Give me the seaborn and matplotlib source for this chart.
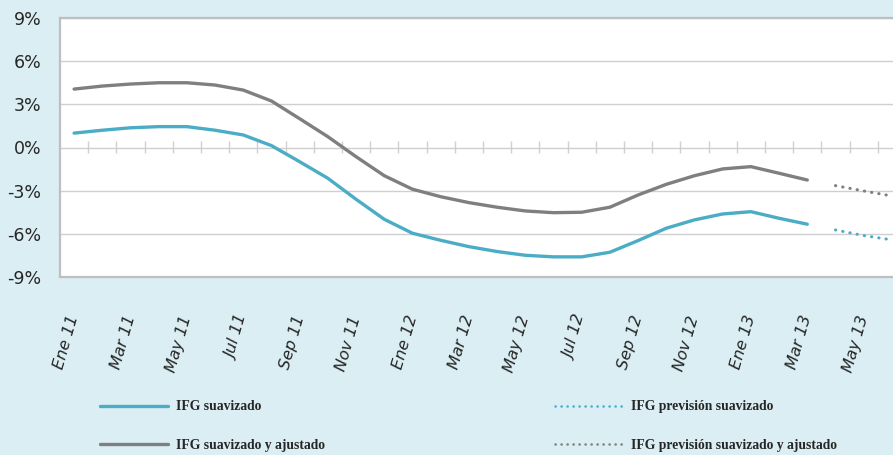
import numpy as np
import pandas as pd
import seaborn as sns
import matplotlib.pyplot as plt
from matplotlib.lines import Line2D

# monthly series, Ene 11 .. Mar 13 observed, Abr 13 onward forecast
meses = ['Ene', 'Feb', 'Mar', 'Abr', 'May', 'Jun', 'Jul', 'Ago', 'Sep', 'Oct', 'Nov', 'Dic']
etiquetas = [f'{meses[i % 12]} {11 + i // 12}' for i in range(30)]

ifg_suavizado = [1.0, 1.2, 1.37, 1.45, 1.45, 1.2, 0.87, 0.13, -0.99, -2.14, -3.6, -4.99, -5.96,
                 -6.45, -6.89, -7.23, -7.49, -7.6, -7.6, -7.28, -6.47, -5.61, -5.03, -4.62,
                 -4.46, -4.92, -5.33]
ifg_ajustado = [4.06, 4.27, 4.41, 4.5, 4.5, 4.34, 3.99, 3.23, 2.0, 0.75, -0.64, -1.96, -2.9,
                -3.42, -3.83, -4.15, -4.41, -4.53, -4.5, -4.15, -3.3, -2.56, -1.96, -1.49,
                -1.33, -1.79, -2.26]
prev_suavizado = [-5.73, -6.12, -6.42]
prev_ajustado = [-2.65, -3.02, -3.37]

yticks = [-9, -6, -3, 0, 3, 6, 9]

azul = '#4bacc6'
gris = '#7f7f7f'
fondo = '#daeef3'

obs = pd.DataFrame({'mes': np.arange(len(ifg_suavizado)),
                    'suav': ifg_suavizado, 'ajust': ifg_ajustado})
prev = pd.DataFrame({'mes': np.arange(len(ifg_suavizado), len(ifg_suavizado) + len(prev_suavizado)),
                     'suav': prev_suavizado, 'ajust': prev_ajustado})

sns.set_style('white')
plt.rcParams['font.family'] = ['DejaVu Sans']

fig = plt.figure(figsize=(8.93, 4.55), dpi=100, facecolor=fondo)
ax = fig.add_axes([60 / 893, 1 - 277 / 455, 1 - 60 / 893, 259 / 455])
ax.set_facecolor('white')

dots = (0, (0.1, 2.3))
sns.lineplot(data=obs, x='mes', y='ajust', ax=ax, color=gris, lw=2.4, solid_capstyle='round')
sns.lineplot(data=obs, x='mes', y='suav', ax=ax, color=azul, lw=2.4, solid_capstyle='round')
sns.lineplot(data=prev, x='mes', y='ajust', ax=ax, color=gris, lw=2.2, linestyle=dots,
             dash_capstyle='round')
sns.lineplot(data=prev, x='mes', y='suav', ax=ax, color=azul, lw=2.2, linestyle=dots,
             dash_capstyle='round')

ax.set_xlim(-0.5, 29.04)
ax.set_ylim(-9, 9)
ax.set_xlabel('')
ax.set_ylabel('')

ax.set_yticks(yticks)
ax.set_yticklabels([f'{v}%' for v in yticks], fontsize=12.5)
ax.grid(axis='y', color='#cfcfcf', lw=1.0)
ax.set_axisbelow(True)
ax.tick_params(axis='y', direction='out', length=4.3, width=1.2, color='#bfbfbf', pad=9)

pos = np.arange(0, 30, 2)
ax.set_xticks(pos)
ax.set_xticklabels([etiquetas[i] for i in pos], rotation=74, fontsize=11.5, style='italic',
                   ha='right', va='center', rotation_mode='anchor')
ax.tick_params(axis='x', length=0, pad=28)

for s in ['left', 'top', 'bottom']:
    ax.spines[s].set_color('#bfbfbf')
    ax.spines[s].set_linewidth(1.6)
ax.spines['right'].set_visible(False)

# cross ticks on the zero line, between categories
sec = ax.secondary_xaxis(0.5)
sec.set_xticks(np.arange(0.5, 30, 1))
sec.set_xticklabels([])
sec.tick_params(direction='inout', length=8.6, width=1.0, color='#d0d0d0')
sec.spines['bottom'].set_visible(False)
sec.spines['top'].set_visible(False)

fuente = {'family': 'Liberation Serif', 'weight': 'bold', 'size': 9.8}
h_suav = Line2D([], [], color=azul, lw=2.4)
h_ajust = Line2D([], [], color=gris, lw=2.4)
h_psuav = Line2D([], [], color=azul, lw=1.8, linestyle=dots, dash_capstyle='round')
h_pajust = Line2D([], [], color=gris, lw=1.8, linestyle=dots, dash_capstyle='round')

kw = dict(frameon=False, prop=fuente, handlelength=5.0, handletextpad=0.6,
          labelspacing=1.85, borderpad=0, borderaxespad=0, loc='center left')
fig.legend([h_suav, h_ajust], ['IFG suavizado', 'IFG suavizado y ajustado'],
           bbox_to_anchor=(100 / 893, 1 - 426 / 455), **kw)
fig.legend([h_psuav, h_pajust], ['IFG previsión suavizado', 'IFG previsión suavizado y ajustado'],
           bbox_to_anchor=(555 / 893, 1 - 426 / 455), **kw)

fig.savefig('out.png', dpi=100, facecolor=fondo)
